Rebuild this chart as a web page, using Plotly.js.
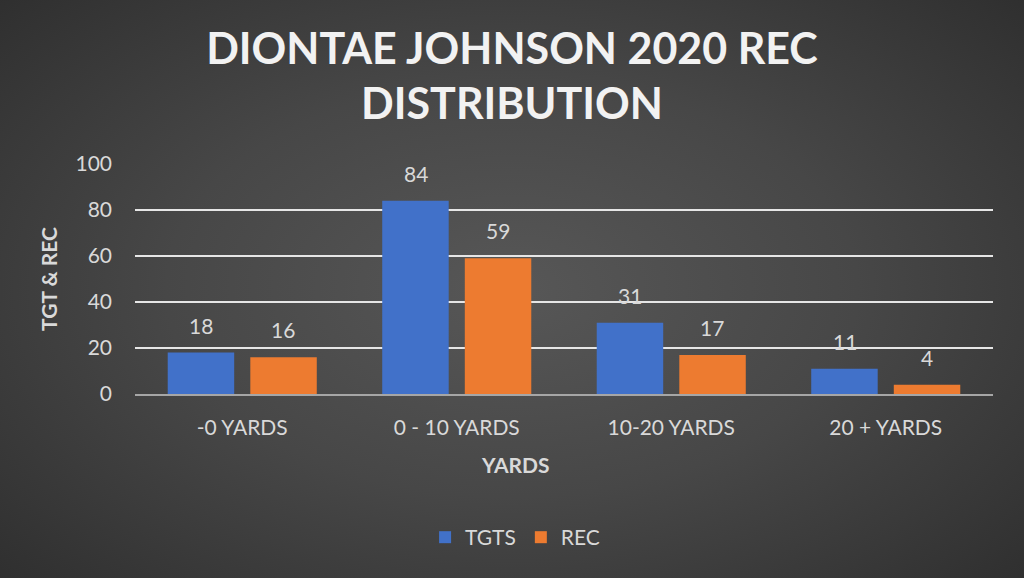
<!DOCTYPE html>
<html>
<head>
<meta charset="utf-8">
<script src="https://cdn.plot.ly/plotly-3.0.1.min.js"></script>
<style>
  html, body { margin: 0; padding: 0; }
  #chart {
    width: 1024px; height: 578px;
    background: radial-gradient(ellipse 75% 80% at 50% 50%, #575757 0%, #474747 45%, #2b2b2b 100%);
  }
</style>
</head>
<body>
<div id="chart"></div>
<script>
const categories = ['-0 YARDS', '0 - 10 YARDS', '10-20 YARDS', '20 + YARDS']
const tgts = [18, 84, 31, 11]
const rec = [16, 59, 17, 4]

const labelFont = { family: 'Lato, "Open Sans", sans-serif', size: 21, color: '#d9d9d9' }

const trace1 = {
  x: categories,
  y: tgts,
  type: 'bar',
  name: 'TGTS',
  marker: { color: '#4171c9', line: { width: 0 } },
  hoverinfo: 'y',
}

const trace2 = {
  x: categories,
  y: rec,
  type: 'bar',
  name: 'REC',
  marker: { color: '#ed7b30', line: { width: 0 } },
  hoverinfo: 'y',
}

// value labels above each bar
const annotations = []
categories.forEach((c, i) => {
  annotations.push({ x: c, y: tgts[i], text: String(tgts[i]), showarrow: false,
    xshift: -41, yshift: 13, yanchor: 'bottom', font: labelFont })
  annotations.push({ x: c, y: rec[i], text: String(rec[i]), showarrow: false,
    xshift: 41, yshift: 13, yanchor: 'bottom', font: labelFont })
})

// axis title sits left of plot centre in the original
annotations.push({
  text: 'YARDS', showarrow: false,
  xref: 'paper', x: 0.443, xanchor: 'center',
  yref: 'paper', y: -0.305, yanchor: 'middle',
  font: { family: 'Lato, "Open Sans", sans-serif', size: 21, color: '#d9d9d9', weight: 'bold' },
})

const layout = {
  width: 1024,
  height: 578,
  paper_bgcolor: 'rgba(0,0,0,0)',
  plot_bgcolor: 'rgba(0,0,0,0)',
  margin: { l: 135, r: 31, t: 164, b: 184 },
  font: { family: 'Lato, "Open Sans", sans-serif', color: '#d9d9d9' },
  title: {
    text: 'DIONTAE JOHNSON 2020 REC<br>DISTRIBUTION',
    x: 0.5,
    xanchor: 'center',
    yref: 'container',
    y: 0.89,
    yanchor: 'middle',
    font: { family: 'Lato, "Open Sans", sans-serif', size: 43, color: '#f2f2f2', weight: 'bold' },
  },
  barmode: 'group',
  bargap: 0.23,
  bargroupgap: 0.195,
  showlegend: true,
  legend: {
    orientation: 'h',
    x: 0.443,
    xanchor: 'center',
    yref: 'container',
    y: 0.07,
    yanchor: 'middle',
    font: { size: 21, color: '#d9d9d9' },
    itemwidth: 30,
  },
  xaxis: {
    type: 'category',
    showgrid: false,
    showline: true,
    linecolor: '#a6a6a6',
    linewidth: 2,
    ticks: '',
    ticklabelstandoff: 14,
    tickfont: { size: 21, color: '#d9d9d9' },
  },
  yaxis: {
    range: [0, 100],
    dtick: 20,
    gridcolor: '#e6e6e6',
    gridwidth: 2,
    zeroline: false,
    showline: false,
    ticks: '',
    ticklabelstandoff: 22,
    tickfont: { size: 21, color: '#d9d9d9' },
    title: { text: 'TGT &amp; REC', font: { size: 21, color: '#d9d9d9', weight: 'bold' }, standoff: 12 },
  },
  annotations: annotations,
}

Plotly.newPlot('chart', [trace1, trace2], layout, { displayModeBar: false, displaylogo: false })
</script>
</body>
</html>
